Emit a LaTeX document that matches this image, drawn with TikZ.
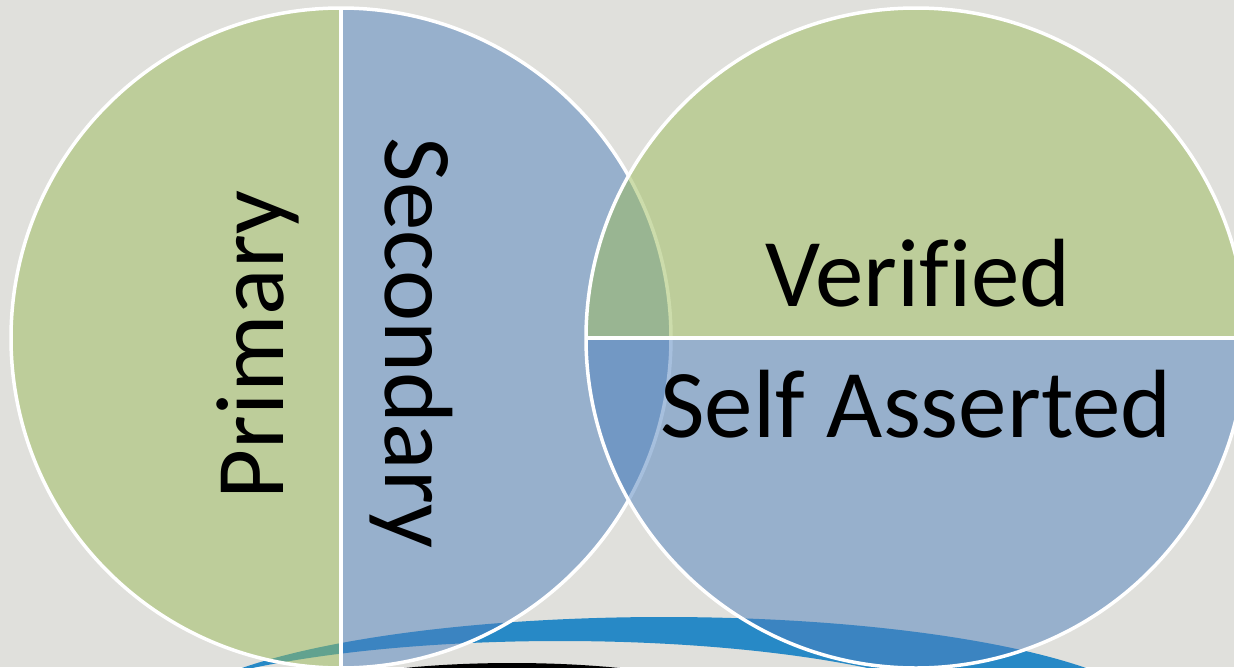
\documentclass[tikz,border=0pt]{standalone}
\usepackage{fontspec}
\setmainfont{Carlito}[Ligatures=CommonOff]
\definecolor{bgc}{HTML}{E0E0DC}
\definecolor{gfill}{HTML}{9BBB59}
\definecolor{bfill}{HTML}{4F81BD}
\definecolor{bandc}{HTML}{2789C6}
\tikzset{
  halfg/.style={fill=gfill, fill opacity=0.5},
  halfb/.style={fill=bfill, fill opacity=0.5},
  rim/.style={draw=white, line width=3.5pt},
  lbl/.style={font=\fontsize{97}{110}\selectfont, text=black, inner sep=0pt, anchor=base}
}
\begin{document}
\begin{tikzpicture}[x=1pt,y=-1pt]
\useasboundingbox (0,0) rectangle (1234,667);
\fill[bgc] (0,0) rectangle (1234,667);
\clip (0,0) rectangle (1234,667);
% bottom decorations
\fill[black] (512,738) ellipse[x radius=300, y radius=75];
\fill[bandc, even odd rule] (664,727) ellipse[x radius=500, y radius=110]
      (560,741) ellipse[x radius=450, y radius=100];
% left circle
\coordinate (lc) at (341,338);
\coordinate (rc) at (916,338);
\begin{scope}
  \clip (0,0) rectangle (341,700);
  \fill[halfg] (lc) circle[radius=330];
\end{scope}
\begin{scope}
  \clip (341,0) rectangle (700,700);
  \fill[halfb] (lc) circle[radius=330];
\end{scope}
\coordinate (ltop) at (341,8);
\coordinate (lbot) at (341,668);
\draw[rim] (ltop) -- (lbot);
\draw[rim] (lc) circle[radius=330];
% right circle
\begin{scope}
  \clip (500,-10) rectangle (1300,338);
  \fill[halfg] (rc) circle[radius=330];
\end{scope}
\begin{scope}
  \clip (500,338) rectangle (1300,700);
  \fill[halfb] (rc) circle[radius=330];
\end{scope}
\coordinate (rl) at (586,338);
\coordinate (rr) at (1246,338);
\draw[rim] (rl) -- (rr);
\draw[rim] (rc) circle[radius=330];
% labels
\node[lbl, rotate=90] (primary) at (283,345) {Primary};
\node[lbl, rotate=-90] (secondary) at (385,343) {Secondary};
\node[lbl] (verified) at (918,306) {Verif\kern0pt ied};
\node[lbl] (self) at (916,437) {Self Asserted};
\end{tikzpicture}
\end{document}
